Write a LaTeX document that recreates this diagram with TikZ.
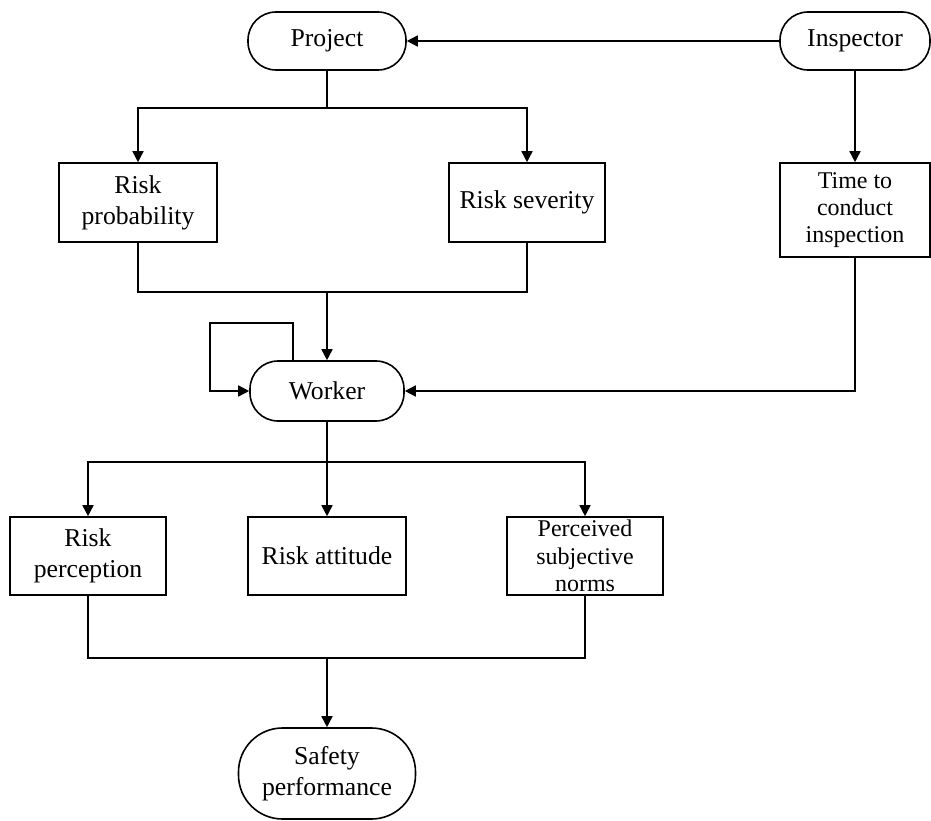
\documentclass[tikz,border=0pt]{standalone}
\usepackage{fontspec}
\setmainfont{Liberation Serif}
\usetikzlibrary{arrows.meta}

\tikzset{
  base/.style={draw=black, line width=1.6pt, inner sep=0pt, align=center,
    font=\fontsize{25.7pt}{31pt}\selectfont},
  smalltext/.style={font=\fontsize{24pt}{27.3pt}\selectfont},
  terminal/.style={base, rounded corners=28pt},
  boxnode/.style={base},
  link/.style={line width=1.6pt},
  arr/.style={link, -{Triangle[length=11pt,width=11pt]}}
}

\begin{document}
\begin{tikzpicture}[x=1pt, y=-1pt]
\useasboundingbox (0,0) rectangle (931,821);

% top row
\node[terminal, minimum width=158pt, minimum height=58pt] (project) at (327,41) {Project};
\node[terminal, minimum width=150pt, minimum height=58pt] (inspector) at (855,41) {Inspector};

% risk factors of the project and inspection timing
\node[boxnode, minimum width=158pt, minimum height=79pt] (rprob) at (138,202.5) {Risk\\probability};
\node[boxnode, minimum width=156pt, minimum height=79pt] (rsev) at (527,202.5) {Risk severity};
\node[boxnode, smalltext, minimum width=150pt, minimum height=94pt] (time) at (855,210) {Time to\\conduct\\inspection};

% worker
\node[terminal, minimum width=154pt, minimum height=60pt] (worker) at (327,391) {Worker};

% worker attributes
\node[boxnode, minimum width=156pt, minimum height=78pt] (rperc) at (88,556) {Risk\\perception};
\node[boxnode, minimum width=158pt, minimum height=78pt] (ratt) at (327,556) {Risk attitude};
\node[boxnode, smalltext, minimum width=156pt, minimum height=78pt] (norms) at (585,556) {Perceived\\subjective\\norms};

% outcome
\node[terminal, rounded corners=44pt, minimum width=177pt, minimum height=91pt] (safety) at (327,773.5) {Safety\\performance};

% junction points
\coordinate (j1) at (327,108);
\coordinate (j2) at (327,292);
\coordinate (j3) at (327,462);
\coordinate (j4) at (327,658);
\coordinate (loop) at (210,323);

% connectors
\draw[arr] (inspector.west) -- (project.east);
\draw[link] (project.south) -- (j1);
\draw[arr] (j1) -| (rprob.north);
\draw[arr] (j1) -| (rsev.north);
\draw[arr] (inspector.south) -- (time.north);

\draw[link] (rprob.south) |- (j2);
\draw[link] (rsev.south) |- (j2);
\draw[arr] (j2) -- (worker.north);

\draw[arr] ([xshift=-34pt]worker.north) |- (loop) |- (worker.west);
\draw[arr] (time.south) |- (worker.east);

\draw[link] (worker.south) -- (j3);
\draw[arr] (j3) -| (rperc.north);
\draw[arr] (j3) -- (ratt.north);
\draw[arr] (j3) -| (norms.north);

\draw[link] (rperc.south) |- (j4);
\draw[link] (norms.south) |- (j4);
\draw[arr] (j4) -- (safety.north);
\end{tikzpicture}
\end{document}
